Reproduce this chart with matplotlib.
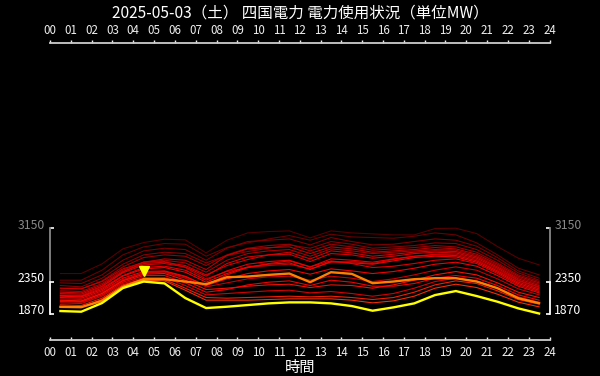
import matplotlib
matplotlib.use("Agg")
import matplotlib.pyplot as plt
from matplotlib.transforms import ScaledTranslation

plt.rcParams['font.family'] = ['Noto Sans CJK JP', 'DejaVu Sans']

title = "2025-05-03（土） 四国電力 電力使用状況（単位MW）"
xlabel = "時間"
hours = [h + 0.5 for h in range(24)]
xtick_labels = ["%02d" % h for h in range(25)]

# past days (older / higher first)
past = [
    [2470,2470,2615,2840,2935,2985,2975,2780,2970,3080,3100,3110,3005,3110,3080,3065,3050,3050,3145,3150,3070,2875,2700,2600],
    [2370,2370,2520,2750,2870,2920,2910,2730,2860,2930,2990,3040,2970,3060,3020,3010,3000,3030,3080,3050,2930,2750,2550,2450],
    [2330,2320,2450,2670,2810,2850,2830,2670,2850,2950,2970,2990,2900,3010,2950,2900,2910,2950,2990,2970,2880,2710,2510,2400],
    [2290,2270,2400,2610,2750,2790,2770,2630,2740,2800,2850,2900,2850,2950,2910,2850,2870,2890,2930,2920,2830,2670,2480,2370],
    [2250,2240,2360,2570,2710,2750,2730,2590,2750,2850,2890,2910,2810,2910,2870,2820,2840,2860,2890,2870,2790,2630,2450,2350],
    [2150,2140,2270,2490,2640,2690,2670,2530,2740,2840,2860,2870,2770,2870,2840,2790,2810,2830,2860,2840,2760,2610,2430,2330],
    [2210,2200,2320,2520,2640,2670,2630,2490,2670,2770,2810,2830,2730,2840,2810,2770,2790,2810,2830,2820,2740,2590,2410,2310],
    [2190,2180,2300,2500,2620,2640,2590,2450,2590,2680,2750,2790,2690,2810,2780,2730,2760,2790,2810,2800,2720,2570,2390,2290],
    [2170,2160,2280,2480,2600,2620,2570,2430,2620,2720,2750,2760,2650,2770,2750,2700,2730,2770,2790,2780,2700,2550,2370,2270],
    [2250,2240,2350,2540,2640,2650,2560,2390,2500,2560,2590,2610,2540,2640,2650,2620,2680,2730,2760,2760,2680,2530,2360,2260],
    [2140,2130,2250,2440,2560,2580,2520,2370,2510,2610,2650,2670,2570,2690,2670,2640,2690,2730,2750,2740,2660,2510,2340,2240],
    [2130,2120,2230,2430,2540,2560,2490,2340,2470,2570,2610,2630,2530,2650,2630,2610,2660,2710,2730,2720,2640,2490,2320,2220],
    [2060,2050,2170,2370,2480,2500,2420,2290,2450,2560,2620,2660,2570,2660,2620,2560,2580,2620,2670,2690,2620,2470,2300,2200],
    [2110,2100,2210,2400,2500,2510,2430,2290,2390,2470,2510,2530,2460,2540,2510,2470,2500,2550,2610,2640,2580,2440,2280,2180],
    [2090,2080,2190,2380,2480,2490,2400,2270,2330,2390,2420,2430,2370,2430,2400,2350,2390,2450,2520,2570,2520,2390,2240,2150],
    [2070,2060,2170,2360,2460,2470,2370,2230,2250,2280,2300,2310,2260,2300,2290,2250,2300,2370,2450,2500,2450,2330,2190,2110],
    [2050,2040,2150,2340,2440,2440,2330,2190,2230,2300,2340,2360,2290,2370,2340,2280,2280,2320,2400,2440,2400,2290,2150,2070],
    [2030,2020,2130,2320,2410,2410,2290,2150,2170,2190,2210,2220,2180,2200,2170,2130,2170,2250,2350,2400,2360,2250,2120,2040],
    [2000,1990,2100,2300,2390,2380,2250,2110,2100,2110,2120,2130,2120,2130,2110,2080,2110,2190,2300,2360,2320,2210,2080,2010],
    [1970,1960,2080,2280,2370,2360,2220,2070,2070,2070,2080,2090,2090,2090,2070,2030,2060,2130,2250,2310,2260,2160,2040,1970],
]
past_colors = ['#5a0000', '#6e0000', '#800000', '#900000', '#a00000', '#c00000', '#b00000',
               '#d80000', '#e00000', '#c80000', '#f00000', '#ff0000', '#e80000', '#ff0000',
               '#d00000', '#ff1000', '#ff0000', '#e00000', '#ff2000', '#ff3000']
yesterday = [1970,1965,2060,2270,2385,2385,2350,2310,2415,2425,2450,2470,2340,2490,2465,2325,2350,2385,2400,2400,2350,2250,2100,2025]
today = [1907,1897,2027,2252,2350,2322,2102,1952,1972,1997,2022,2037,2037,2022,1982,1912,1962,2022,2147,2207,2132,2047,1947,1870]

y_lo, y_hi = 1480, 5930

fig = plt.figure(figsize=(6, 3.76), dpi=100, facecolor='black')
ax = fig.add_axes([50/600, 1-339.5/376, 499.5/600, (339.5-43)/376])
ax.set_facecolor('black')

for vals, c in zip(past, past_colors):
    ax.plot(hours, vals, color=c, lw=0.8, alpha=0.95)
ax.plot(hours, yesterday, color='#ff8000', lw=1.7)
ax.plot(hours, today, color='#ffff00', lw=1.7)

# peak marker for today
imax = max(range(len(today)), key=lambda k: today[k])
off = ScaledTranslation(0, 10.5/100, fig.dpi_scale_trans)
ax.plot([hours[imax]], [today[imax]], marker='v', color='#ffff00', markersize=7,
        linestyle='none', transform=ax.transData + off)

ax.set_xlim(0, 24)
ax.set_ylim(y_lo, y_hi)

tmin, tmax = min(today), max(today)
allmax = max(max(v) for v in past + [yesterday, today])

# x axes (top and bottom)
ax.set_xticks(range(25))
ax.set_xticklabels(xtick_labels)
ax.tick_params(axis='x', which='both', top=True, bottom=True, labeltop=True, labelbottom=True,
               colors='#eeeeee', labelsize=8.3, length=2.5, width=1)
ax.tick_params(axis='x', which='both', direction='in', pad=4.5)
for t in ax.xaxis.get_major_ticks():
    t.tick2line.set_marker(2)
    t.tick1line.set_marker(2)
for s in ['top', 'bottom']:
    ax.spines[s].set_color('#cccccc')
    ax.spines[s].set_linewidth(1.3)

# y axes (left and right brackets)
yt = [tmin, tmax, allmax]
ax.set_yticks(yt)
ax.set_yticklabels([str(v) for v in yt])
ax.tick_params(axis='y', left=True, right=True, labelleft=True, labelright=True,
               direction='in', length=3, width=1.2, labelsize=8.8, pad=3.5, colors='white')
for s in ['left', 'right']:
    ax.spines[s].set_bounds(tmin, tmax)
    ax.spines[s].set_color('white')
    ax.spines[s].set_linewidth(1.3)
ytr = ax.get_yaxis_transform()
ax.plot([0, 0], [tmax, allmax], color='#888888', lw=1.3, transform=ytr, clip_on=False)
ax.plot([1, 1], [tmax, allmax], color='#888888', lw=1.3, transform=ytr, clip_on=False)
ticks = ax.yaxis.get_major_ticks()
ticks[2].tick1line.set_color('#888888')
ticks[2].tick2line.set_color('#888888')
ticks[2].label1.set_color('#888888')
ticks[2].label2.set_color('#888888')
up = ScaledTranslation(0, 4.5/100, fig.dpi_scale_trans)
for t in ticks:
    t.label1.set_transform(t.label1.get_transform() + up)
    t.label2.set_transform(t.label2.get_transform() + up)

ax.set_xlabel(xlabel, color='white', fontsize=11, labelpad=0)
fig.text(0.5, 1-13/376, title, color='white', fontsize=11.2, ha='center', va='center')

fig.savefig('out.png', dpi=100, facecolor='black')
